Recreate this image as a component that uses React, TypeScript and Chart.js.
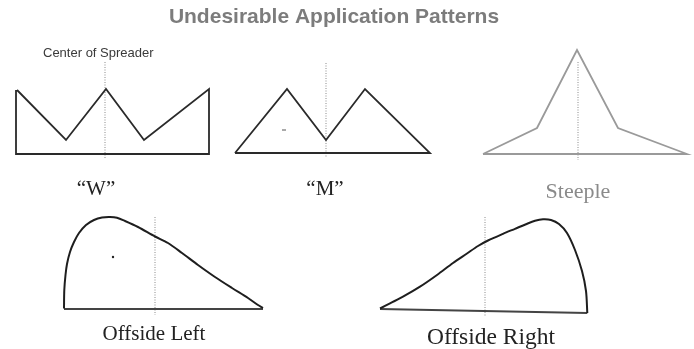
import React, { useEffect, useRef } from "react";
import { Chart, registerables } from "chart.js";

Chart.register(...registerables);

// ---- Data (drawing units: x 0..694, y 0..349 measured from the top) ----
const chartTitle = "Undesirable Application Patterns";
const centerNote = "Center of Spreader";
const patternNames = ["\u201CW\u201D", "\u201CM\u201D", "Steeple", "Offside Left", "Offside Right"];

const wX = [17, 66, 106, 144, 209, 209, 16, 16];
const wY = [90, 140, 89, 140, 89, 154, 154, 90];

const mX = [235, 287, 326, 365, 430, 235];
const mY = [153, 89, 140, 89, 153, 153];

const steepleX = [483, 537, 577, 618, 687, 483];
const steepleY = [154, 128, 50, 128, 154, 154];

const leftCurveX = [64, 64.3, 65.5, 67, 70, 74, 79, 86, 94, 102, 110, 117, 125, 138, 155, 168, 182, 198, 215, 232, 248, 258, 263];
const leftCurveY = [308.5, 290, 275, 264, 252, 242, 233, 225, 220, 217.5, 217, 217.8, 221, 227, 236.5, 243, 253, 265, 277, 288, 298, 305, 308];
const leftBaseX = [263, 64];
const leftBaseY = [309, 309];

const rightCurveX = [380, 390, 403, 420, 437, 453, 467, 478, 488, 503, 515, 526, 535, 543, 551, 559, 567, 575, 582, 586, 587.3];
const rightCurveY = [308.5, 303.3, 296.7, 286.7, 275, 263, 253.5, 246, 240.5, 233.8, 228.8, 224.2, 220.8, 219.3, 220, 224, 233, 250, 271, 291, 313];
const rightBaseX = [587.3, 380];
const rightBaseY = [313, 309];

// centre-of-spreader lines: x, top, bottom
const centerLineX = [105, 326, 578, 155, 485];
const centerLineTop = [62, 63, 62, 217, 217];
const centerLineBottom = [158, 158, 160, 315, 317];

// stray specks on the original scan
const speckX = [113];
const speckY = [257];
const dashX = [282, 286];
const dashY = [130, 130];

// ---- Annotation layout (positions in drawing units) ----
const titlePos = { x: 334, y: 23 };
const notePos = { x: 43, y: 57 };
const nameX = [96, 325, 578, 154, 491];
const nameY = [195, 195, 198, 340, 344];
const nameSize = [21, 21, 22, 21, 23.5];
const nameColor = ["#222", "#222", "#8a8a8a", "#222", "#222"];

const pts = (xs: number[], ys: number[]) => xs.map((x, i) => ({ x, y: ys[i] }));

const textPlugin = {
  id: "diagramText",
  afterDatasetsDraw(chart: any) {
    const { ctx, scales } = chart;
    const sx = (v: number) => scales.x.getPixelForValue(v);
    const sy = (v: number) => scales.y.getPixelForValue(v);
    ctx.save();
    ctx.textBaseline = "alphabetic";
    // title
    ctx.fillStyle = "#7c7c7c";
    ctx.font = "bold 21px 'Liberation Sans', Arial, sans-serif";
    ctx.textAlign = "center";
    ctx.fillText(chartTitle, sx(titlePos.x), sy(titlePos.y));
    // note
    ctx.fillStyle = "#3a3a3a";
    ctx.font = "13px 'Liberation Sans', Arial, sans-serif";
    ctx.textAlign = "left";
    ctx.fillText(centerNote, sx(notePos.x), sy(notePos.y));
    // pattern names
    ctx.textAlign = "center";
    patternNames.forEach((t, i) => {
      ctx.fillStyle = nameColor[i];
      ctx.font = `${nameSize[i]}px 'Liberation Serif', 'Times New Roman', serif`;
      ctx.fillText(t, sx(nameX[i]), sy(nameY[i]));
    });
    ctx.restore();
  },
};

export default function App() {
  const ref = useRef<HTMLCanvasElement | null>(null);

  useEffect(() => {
    if (!ref.current) return;
    const dark = "#2a2a2a";
    const base = {
      showLine: true,
      pointRadius: 0,
      pointHoverRadius: 0,
      fill: false,
      tension: 0,
      borderJoinStyle: "miter" as const,
    };
    const datasets: any[] = [
      { ...base, label: "W", data: pts(wX, wY), borderColor: dark, borderWidth: 1.8 },
      { ...base, label: "M", data: pts(mX, mY), borderColor: dark, borderWidth: 1.8 },
      { ...base, label: "Steeple", data: pts(steepleX, steepleY), borderColor: "#9a9a9a", borderWidth: 1.8 },
      { ...base, label: "Offside Left", data: pts(leftCurveX, leftCurveY), borderColor: "#1e1e1e", borderWidth: 2, tension: 0.3 },
      { ...base, label: "Offside Left base", data: pts(leftBaseX, leftBaseY), borderColor: "#444", borderWidth: 2 },
      { ...base, label: "Offside Right", data: pts(rightCurveX, rightCurveY), borderColor: "#1e1e1e", borderWidth: 2, tension: 0.3 },
      { ...base, label: "Offside Right base", data: pts(rightBaseX, rightBaseY), borderColor: "#444", borderWidth: 2 },
      { ...base, label: "dash", data: pts(dashX, dashY), borderColor: "#555", borderWidth: 1 },
      { showLine: false, label: "speck", data: pts(speckX, speckY), pointRadius: 1.2, pointHoverRadius: 1.2, pointBackgroundColor: "#222", pointBorderWidth: 0 },
    ];
    centerLineX.forEach((x, i) => {
      datasets.push({
        ...base,
        label: "center" + i,
        data: [
          { x, y: centerLineTop[i] },
          { x, y: centerLineBottom[i] },
        ],
        borderColor: "#8a8a8a",
        borderWidth: 1,
        borderDash: [1, 1.5],
      });
    });

    const chart = new Chart(ref.current, {
      type: "scatter",
      data: { datasets },
      options: {
        animation: false,
        responsive: false,
        maintainAspectRatio: false,
        layout: { padding: 0, autoPadding: false },
        plugins: {
          legend: { display: false },
          tooltip: { enabled: false },
          title: { display: false },
        },
        scales: {
          x: { type: "linear", min: 0, max: 694, display: false },
          y: { type: "linear", min: 0, max: 349, reverse: true, display: false },
        },
      },
      plugins: [textPlugin],
    });
    return () => chart.destroy();
  }, []);

  return (
    <div style={{ position: "absolute", left: 0, top: 0, width: 694, height: 349, background: "#fff" }}>
      <canvas ref={ref} width={694} height={349} />
    </div>
  );
}
